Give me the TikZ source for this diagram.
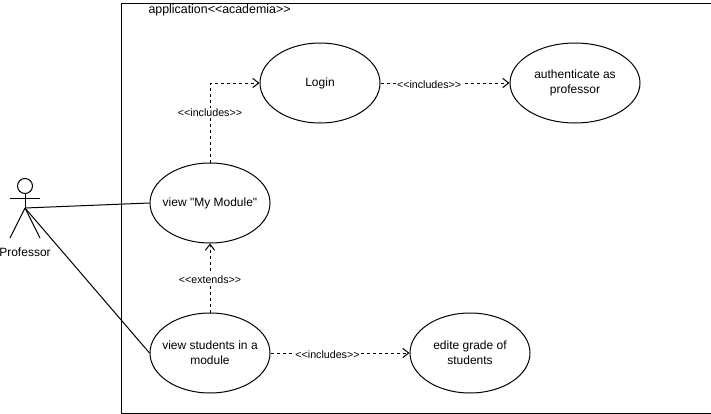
\documentclass[tikz,border=0pt]{standalone}
\usepackage{fontspec}
\setmainfont{Liberation Sans}[Ligatures=TeXOff]
\usetikzlibrary{arrows.meta,shapes.geometric}
\tikzset{
    usecase/.style={draw,ellipse,inner xsep=-8pt,inner ysep=0pt,minimum width=90pt,minimum height=60pt,align=center,font=\fontsize{9}{11.25}\selectfont},
    mainusecase/.style={usecase,minimum width=97.5pt},
    relation/.style={dashed,dash pattern=on 2.25pt off 2.25pt,-{Straight Barb[length=4.5pt,width=7pt]}},
    relationlabel/.style={fill=white,inner sep=1pt,yshift=-1pt,font=\fontsize{8}{10}\selectfont},
}
\begin{document}
\begin{tikzpicture}[x=0.75pt,y=-0.75pt,line width=0.75pt]
\useasboundingbox (0,0) rectangle (711,414);
% System boundary
\node[draw,line width=0.75pt,minimum width=442.5pt,minimum height=307.5pt,inner sep=0pt,anchor=north west] (system) at (120.5,3) {};
\node[anchor=west,inner sep=0pt,font=\fontsize{9.3}{11}\selectfont] (systemlabel) at (148,10) {application<<academia>>};
% Use cases
\node[usecase] (login) at (320,83) {Login};
\node[mainusecase] (authenticate) at (575,83) {authenticate as\\professor};
\node[usecase] (mymodule) at (210,203) {view "My Module"};
\node[usecase] (students) at (210,353) {view students in a\\module};
\node[usecase] (grade) at (470,353) {edite grade of\\students};
% Actor
\node[draw,circle,minimum size=11.25pt,inner sep=0pt] (head) at (25,186) {};
\coordinate (hip) at (25,208);
\coordinate (lefthand) at (10,198);
\coordinate (righthand) at (40,198);
\coordinate (leftfoot) at (10,238);
\coordinate (rightfoot) at (40,238);
\node[font=\fontsize{9}{11}\selectfont] (professor) at (25,252) {Professor};
\draw (head) -- (hip);
\draw (lefthand) -- (righthand);
\foreach \i in {leftfoot,rightfoot}
    \draw (hip) -- (\i);
% Actor lines
\foreach \i in {mymodule,students}
    \draw (hip) -- (\i.west);
% Dependencies
\draw[relation] (mymodule) |- (login) node[relationlabel,pos=0.32] {<<includes>>};
\draw[relation] (login) -- (authenticate) node[relationlabel,pos=0.377] {<<includes>>};
\draw[relation] (students) -- (mymodule) node[relationlabel,midway] {<<extends>>};
\draw[relation] (students) -- (grade) node[relationlabel,pos=0.41] {<<includes>>};
\end{tikzpicture}
\end{document}
